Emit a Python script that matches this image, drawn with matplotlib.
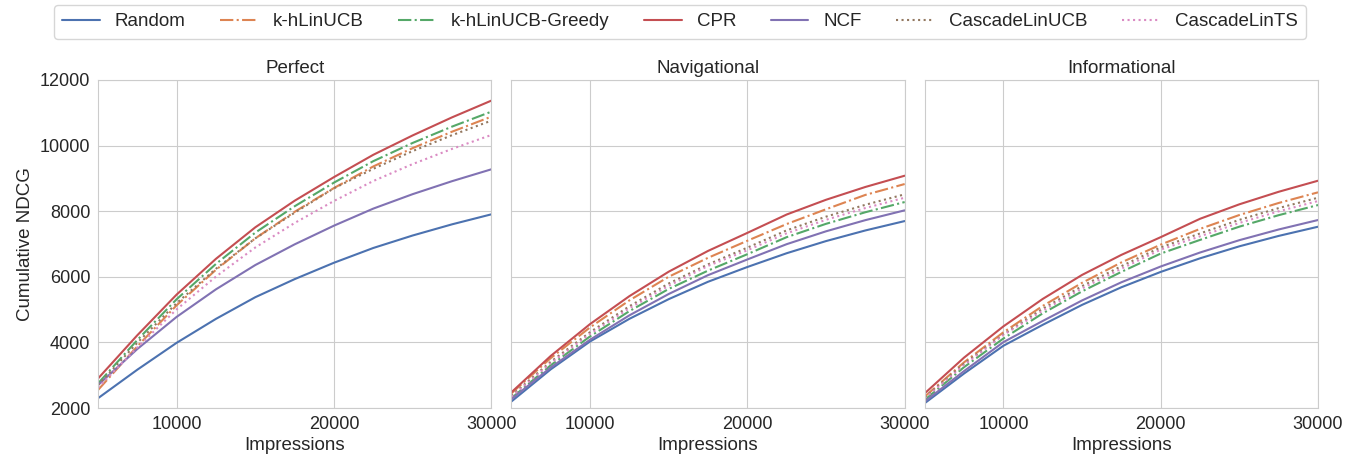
import numpy as np
import matplotlib
matplotlib.use("Agg")
import matplotlib.pyplot as plt
import seaborn as sns

# impressions sampled every 2500
impressions = [5000, 7500, 10000, 12500, 15000, 17500, 20000, 22500, 25000, 27500, 30000]

methods = ["Random", "k-hLinUCB", "k-hLinUCB-Greedy", "CPR", "NCF", "CascadeLinUCB", "CascadeLinTS"]
panels = ["Perfect", "Navigational", "Informational"]

perfect = {
    "Random":           [2300, 3170, 3990, 4720, 5380, 5930, 6430, 6880, 7260, 7600, 7905],
    "k-hLinUCB":        [2550, 3883, 5133, 6216, 7174, 7982, 8707, 9365, 9923, 10423, 10881],
    "k-hLinUCB-Greedy": [2750, 4075, 5318, 6395, 7348, 8151, 8872, 9526, 10081, 10578, 11034],
    "CPR":              [2900, 4220, 5460, 6550, 7510, 8320, 9040, 9720, 10310, 10860, 11370],
    "NCF":              [2700, 3800, 4780, 5620, 6360, 6990, 7560, 8080, 8520, 8915, 9277],
    "CascadeLinUCB":    [2700, 3990, 5199, 6246, 7173, 7955, 8700, 9293, 9833, 10317, 10760],
    "CascadeLinTS":     [2620, 3852, 5008, 6009, 6895, 7642, 8313, 8921, 9437, 9899, 10323],
}

navigational = {
    "Random":           [2200, 3180, 4030, 4720, 5320, 5850, 6300, 6720, 7090, 7414, 7700],
    "k-hLinUCB":        [2450, 3522, 4459, 5282, 6003, 6580, 7100, 7610, 8060, 8497, 8829],
    "k-hLinUCB-Greedy": [2300, 3305, 4184, 4955, 5631, 6190, 6690, 7210, 7616, 7969, 8280],
    "CPR":              [2480, 3589, 4560, 5411, 6157, 6790, 7340, 7900, 8349, 8739, 9082],
    "NCF":              [2270, 3237, 4083, 4826, 5477, 6052, 6530, 6996, 7388, 7728, 8027],
    "CascadeLinUCB":    [2380, 3411, 4313, 5104, 5797, 6380, 6890, 7417, 7834, 8196, 8515],
    "CascadeLinTS":     [2350, 3368, 4260, 5042, 5727, 6333, 6810, 7327, 7739, 8097, 8412],
}

informational = {
    "Random":           [2150, 3054, 3900, 4538, 5146, 5683, 6151, 6565, 6931, 7248, 7528],
    "k-hLinUCB":        [2350, 3396, 4311, 5114, 5818, 6440, 6982, 7462, 7885, 8252, 8576],
    "k-hLinUCB-Greedy": [2250, 3248, 4121, 4887, 5558, 6152, 6710, 7126, 7530, 7880, 8189],
    "CPR":              [2450, 3539, 4491, 5327, 6059, 6670, 7210, 7770, 8211, 8593, 8930],
    "NCF":              [2200, 3129, 4010, 4656, 5281, 5835, 6316, 6742, 7118, 7444, 7732],
    "CascadeLinUCB":    [2330, 3352, 4246, 5030, 5718, 6326, 6900, 7323, 7737, 8096, 8412],
    "CascadeLinTS":     [2300, 3310, 4230, 4969, 5648, 6249, 6830, 7235, 7644, 7998, 8311],
}

datos = [perfect, navigational, informational]

colores = sns.color_palette("deep")
estilos = {"Random": "-", "k-hLinUCB": "-.", "k-hLinUCB-Greedy": "-.", "CPR": "-",
           "NCF": "-", "CascadeLinUCB": ":", "CascadeLinTS": ":"}

## Estilo
sns.set_style("whitegrid")
plt.rcParams["font.family"] = ["Liberation Sans", "DejaVu Sans"]

fig, axes = plt.subplots(1, 3, figsize=(13.57, 4.57), dpi=100, sharey=True)
fig.subplots_adjust(left=0.0722, right=0.9713, bottom=0.107, top=0.825, wspace=0.051)

for ax, titulo, d in zip(axes, panels, datos):
    for i, m in enumerate(methods):
        ax.plot(impressions, d[m], ls=estilos[m], color=colores[i], lw=1.5, label=m)
    ax.set_title(titulo, fontsize=13.5, pad=5)
    ax.set_xlim(5000, 30000)
    ax.set_ylim(2000, 12000)
    ax.set_xticks([10000, 20000, 30000])
    ax.set_yticks([2000, 4000, 6000, 8000, 10000, 12000])
    ax.tick_params(labelsize=13, pad=2)
    ax.set_xlabel("Impressions", fontsize=13.5, labelpad=3)

axes[0].set_ylabel("Cumulative NDCG", fontsize=13.5)

handles, labels = axes[0].get_legend_handles_labels()
fig.legend(handles, labels, loc="upper center", ncol=7, bbox_to_anchor=(0.501, 1.01),
           fontsize=13.5, handlelength=2.0, handletextpad=0.8, columnspacing=1.85,
           frameon=True, borderpad=0.45)

plt.savefig("out.png", dpi=100)
